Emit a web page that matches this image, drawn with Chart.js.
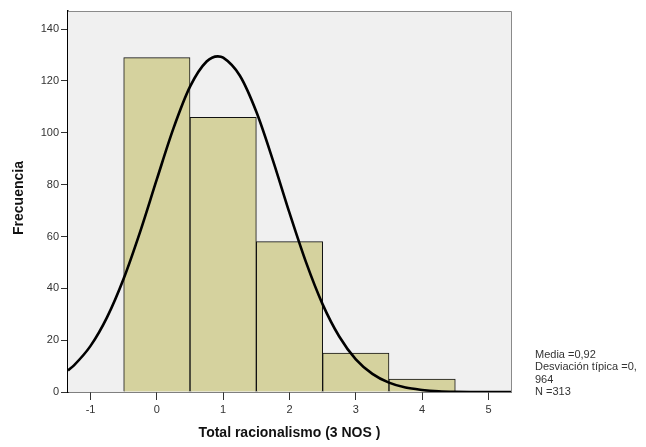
<!DOCTYPE html>
<html>
<head>
<meta charset="utf-8">
<script src="https://cdn.jsdelivr.net/npm/chart.js@4/dist/chart.umd.min.js"></script>
<style>
    body { margin: 0; background: #fff; }
    #wrap { width: 646px; height: 447px; position: relative; }
</style>
</head>
<body>
<div id="wrap"><canvas id="hist"></canvas></div>
<script>
// Histogram bins (bin centre) and counts
const binCenters = [0, 1, 2, 3, 4];
const counts = [129, 106, 58, 15, 5];

// Normal curve
const curveX = [-1.34, -1.25, -1, -0.75, -0.5, -0.25, 0, 0.25, 0.5, 0.75, 0.92, 1, 1.25, 1.5, 1.75, 2, 2.25, 2.5, 2.75, 3, 3.25, 3.5, 3.75, 4, 4.25, 4.5, 5, 5.34];
const curveY = [8.3, 10.3, 17.8, 28.9, 43.8, 62.0, 82.1, 101.7, 117.8, 127.5, 129.5, 129.0, 122.1, 108.1, 89.4, 69.1, 50.0, 33.8, 21.4, 12.6, 7.0, 3.6, 1.7, 0.8, 0.3, 0.1, 0, 0];

// Axis ticks
const xTicks = [-1, 0, 1, 2, 3, 4, 5];
const yTicks = [0, 20, 40, 60, 80, 100, 120, 140];

const statsLines = ['Media =0,92', 'Desviación típica =0,', '964', 'N =313'];

// Plot background, frame and the extra texts
const framePlugin = {
    id: 'frame',
    beforeDatasetsDraw(chart) {
        const a = chart.chartArea;
        const ctx = chart.ctx;
        ctx.save();
        ctx.fillStyle = '#f0f0f0';
        ctx.fillRect(a.left, a.top, a.right - a.left, a.bottom - a.top);
        ctx.restore();
    },
    afterDraw(chart) {
        const a = chart.chartArea;
        const ctx = chart.ctx;
        ctx.save();
        // top and right frame
        ctx.strokeStyle = '#8a8a8a';
        ctx.lineWidth = 1;
        ctx.beginPath();
        ctx.moveTo(a.left, a.top + 0.5);
        ctx.lineTo(a.right + 0.5, a.top + 0.5);
        ctx.lineTo(a.right + 0.5, a.bottom);
        ctx.stroke();

        // axis titles
        ctx.fillStyle = '#111';
        ctx.font = 'bold 14px "Liberation Sans", Arial, sans-serif';
        ctx.textAlign = 'center';
        ctx.textBaseline = 'middle';
        ctx.fillText('Total racionalismo (3 NOS )', (a.left + a.right) / 2, 433);
        ctx.translate(19, 198);
        ctx.rotate(-Math.PI / 2);
        ctx.fillText('Frecuencia', 0, 0);
        ctx.restore();

        // stats box
        ctx.save();
        ctx.fillStyle = '#333';
        ctx.font = '11px "Liberation Sans", Arial, sans-serif';
        ctx.textAlign = 'left';
        ctx.textBaseline = 'middle';
        statsLines.forEach(function(line, i) {
            ctx.fillText(line, 535, 355 + i * 12.3);
        });
        ctx.restore();
    }
};

const ctx = document.getElementById('hist').getContext('2d');

const histChart = new Chart(ctx, {
    type: 'bar',
    data: {
        datasets: [
            {
                type: 'line',
                label: 'Normal',
                data: curveX.map(function(x, i) { return { x: x, y: curveY[i] }; }),
                borderColor: '#000',
                borderWidth: 2.6,
                pointRadius: 0,
                fill: false,
                cubicInterpolationMode: 'monotone',
                order: 0
            },
            {
                type: 'bar',
                label: 'Frecuencia',
                data: binCenters.map(function(x, i) { return { x: x, y: counts[i] }; }),
                backgroundColor: '#d5d29e',
                borderColor: '#111',
                borderWidth: 1,
                barPercentage: 1,
                categoryPercentage: 1,
                order: 1
            }
        ]
    },
    options: {
        responsive: true,
        maintainAspectRatio: false,
        animation: false,
        layout: {
            padding: { left: 0, top: 11, right: 135, bottom: 0 }
        },
        plugins: {
            legend: { display: false },
            tooltip: { enabled: false }
        },
        scales: {
            x: {
                type: 'linear',
                offset: false,
                min: -1.34,
                max: 5.34,
                afterBuildTicks: function(scale) {
                    scale.ticks = xTicks.map(function(v) { return { value: v }; });
                },
                afterFit: function(scale) { scale.height = 55; },
                border: { display: true, color: '#000', width: 1.5 },
                grid: {
                    offset: false,
                    drawOnChartArea: false,
                    drawTicks: true,
                    tickLength: 8,
                    color: '#333'
                },
                ticks: {
                    color: '#333',
                    padding: 3,
                    font: { family: '"Liberation Sans", Arial, sans-serif', size: 11 }
                }
            },
            y: {
                min: 0,
                max: 147,
                afterBuildTicks: function(scale) {
                    scale.ticks = yTicks.map(function(v) { return { value: v }; });
                },
                afterFit: function(scale) { scale.width = 68; },
                border: { display: true, color: '#000', width: 1.5 },
                grid: {
                    drawOnChartArea: false,
                    drawTicks: true,
                    tickLength: 7,
                    color: '#333'
                },
                ticks: {
                    color: '#333',
                    padding: 2,
                    font: { family: '"Liberation Sans", Arial, sans-serif', size: 11 }
                }
            }
        }
    },
    plugins: [framePlugin]
});
</script>
</body>
</html>
